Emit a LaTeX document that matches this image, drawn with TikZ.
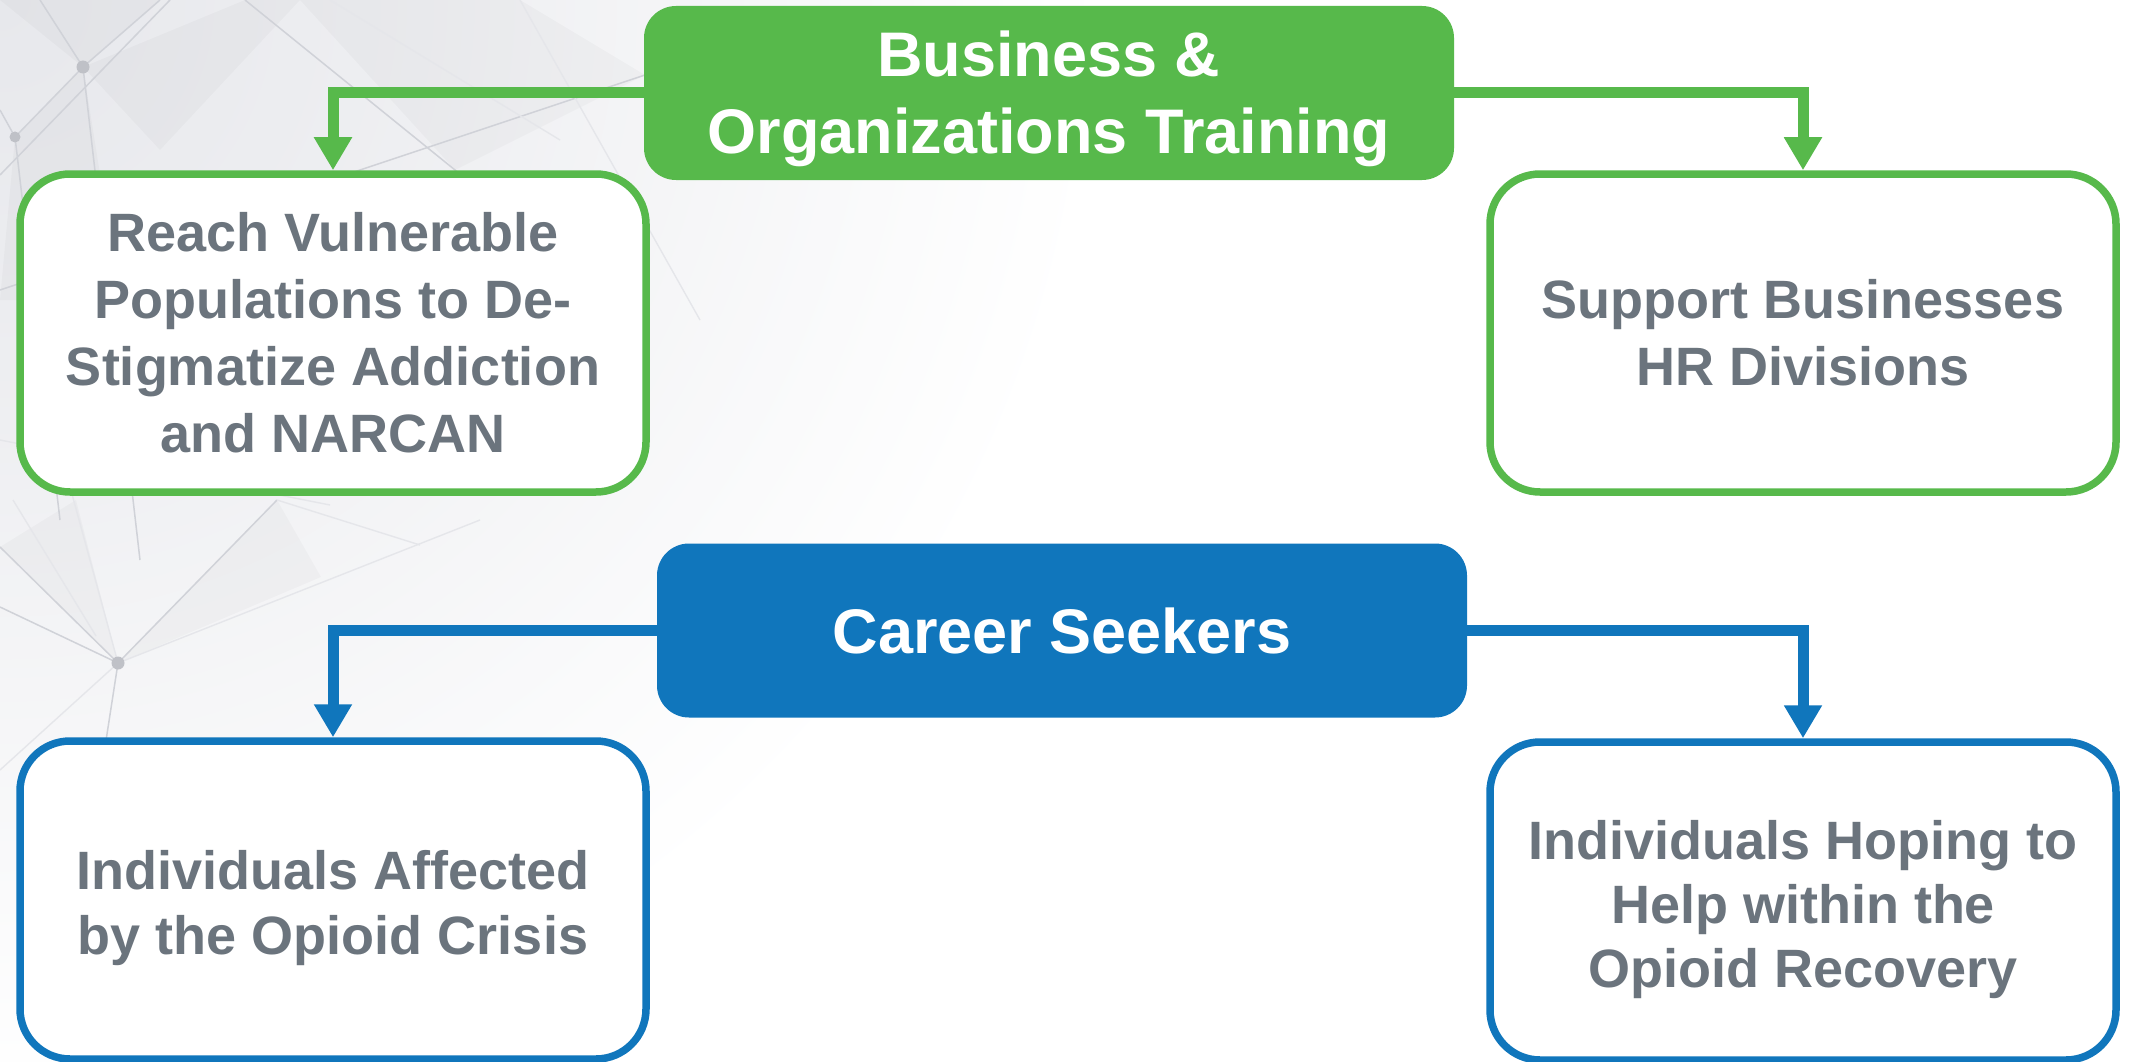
\documentclass[tikz,border=0pt]{standalone}
\usepackage{fontspec}
\setmainfont{Liberation Sans}
\usetikzlibrary{arrows.meta}

\definecolor{brandgreen}{RGB}{87,185,75}
\definecolor{brandblue}{RGB}{16,118,188}
\definecolor{textgray}{RGB}{107,116,125}
\definecolor{meshbase}{RGB}{231,232,236}
\definecolor{meshline}{RGB}{208,210,216}

% grey glow spreading from the upper left corner
\pgfdeclareradialshading{cornerglow}{\pgfpoint{0bp}{0bp}}{%
  color(0bp)=(meshbase); color(420bp)=(meshbase!70!white);
  color(1100bp)=(white); color(1200bp)=(white)}

\tikzset{
  outlinebox/.style={draw, line width=7.5pt, fill=white, rounded corners=50pt,
    minimum width=626pt, minimum height=318pt, inner sep=0pt, align=center,
    text=textgray, font=\fontsize{54}{67}\selectfont\bfseries},
  headbox/.style={rounded corners=32pt, minimum width=810pt, minimum height=174pt,
    inner sep=0pt, align=center, text=white,
    font=\fontsize{63}{77}\selectfont\bfseries},
  link/.style={line width=11pt, -{Triangle[width=36pt,length=33pt]}},
  mesh/.style={draw=meshline, line width=1.5pt},
  meshfaint/.style={draw=meshline!55, line width=1.4pt},
  meshdot/.style={fill=meshline!92!black, draw=none},
  facet/.style={fill=black, opacity=0.022, draw=none}
}

\begin{document}
\begin{tikzpicture}[x=1pt, y=-1pt]
\useasboundingbox (0,0) rectangle (2131,1062);

% soft grey backdrop with a faint low-poly network
\begin{scope}
  \clip (0,0) rectangle (2131,1062);
  \fill[white] (0,0) rectangle (2131,1062);
  \node[inner sep=0pt] (glow) at (0,0) {\pgfuseshading{cornerglow}};

  % facets
  \fill[facet] (0,0) -- (160,0) -- (83,67) -- cycle;
  \fill[facet] (83,67) -- (245,0) -- (300,0) -- (160,150) -- cycle;
  \fill[facet] (15,137) -- (83,67) -- (120,300) -- (0,300) -- cycle;
  \fill[facet] (300,0) -- (455,170) -- (645,75) -- (520,0) -- cycle;
  \fill[facet] (0,547) -- (118,663) -- (76,500) -- cycle;
  \fill[facet] (118,663) -- (277,500) -- (321,577) -- cycle;

  % lines
  \draw[mesh] (40,0) -- (83,67) -- (15,137);
  \draw[mesh] (83,67) -- (160,0);
  \draw[mesh] (83,67) -- (140,560);
  \draw[mesh] (170,0) -- (0,175);
  \draw[mesh] (245,0) -- (455,170) -- (640,330);
  \draw[mesh] (0,290) -- (645,75);
  \draw[mesh] (15,137) -- (0,110);
  \draw[mesh] (15,137) -- (60,520);
  \draw[meshfaint] (330,0) -- (560,140);
  \draw[meshfaint] (520,0) -- (700,320);
  \draw[meshfaint] (0,440) -- (330,505);
  \draw[mesh] (0,547) -- (118,663) -- (277,500);
  \draw[meshfaint] (60,450) -- (118,663) -- (480,520);
  \draw[mesh] (0,607) -- (118,663) -- (103,760);
  \draw[meshfaint] (118,663) -- (0,770);
  \draw[meshfaint] (13,500) -- (96,636);
  \draw[meshfaint] (277,500) -- (420,545);

  \fill[meshdot] (83,67) circle (6.5);
  \fill[meshdot] (15,137) circle (5.5);
  \fill[meshdot] (118,663) circle (6.5);
\end{scope}

% outcome boxes
\node[outlinebox, draw=brandgreen] (reach) at (333,333)
  {Reach Vulnerable\\Populations to De-\\Stigmatize Addiction\\and NARCAN};
\node[outlinebox, draw=brandgreen] (support) at (1803,333)
  {Support Businesses\\HR Divisions};
\node[outlinebox, draw=brandblue, font=\fontsize{54}{65}\selectfont\bfseries] (affected) at (333,900)
  {\rule{0pt}{55pt}Individuals Affected\\by the Opioid Crisis};
\node[outlinebox, draw=brandblue, font=\fontsize{54}{64}\selectfont\bfseries] (hoping) at (1803,901)
  {\rule{0pt}{56pt}Individuals Hoping to\\Help within the\\Opioid Recovery};

% programme headers
\node[headbox, fill=brandgreen] (business) at (1049,93)
  {\rule{0pt}{58pt}Business \&\\Organizations Training};
\node[headbox, fill=brandblue] (career) at (1062,630.5)
  {Career Seekers};

% connectors
\draw[link, brandgreen] (business.west) -| (reach.north);
\draw[link, brandgreen] (business.east) -| (support.north);
\draw[link, brandblue] (career.west) -| (affected.north);
\draw[link, brandblue] (career.east) -| (hoping.north);
\end{tikzpicture}
\end{document}
